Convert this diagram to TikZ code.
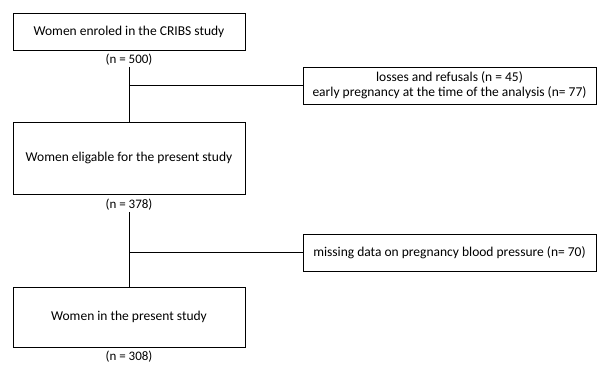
\documentclass[tikz,border=0pt]{standalone}
\usepackage{fontspec}
\setmainfont{Carlito}
\begin{document}
\begin{tikzpicture}[
    x=1pt, y=-1pt,
    every node/.style={font=\fontsize{13.5}{15}\selectfont},
    stagebox/.style={draw, line width=0.9pt, minimum width=232pt, inner sep=0pt, align=center},
    exclbox/.style={draw, line width=0.9pt, minimum width=293pt, minimum height=37pt, inner sep=0pt, align=center},
    count/.style={inner sep=1pt, font=\fontsize{13}{14}\selectfont},
    link/.style={draw, line width=0.7pt}
]
\useasboundingbox (0,0) rectangle (598,365);
% Main stages
\node[stagebox, minimum height=37pt] (enrolled) at (129,31.5) {Women enroled in the CRIBS study};
\node[count] (n500) at (129,60) {(n = 500)};
\node[stagebox, minimum height=72pt] (eligible) at (129,158) {Women eligable for the present study};
\node[count] (n378) at (129,205) {(n = 378)};
\node[stagebox, minimum height=60pt] (present) at (129,317) {Women in the present study};
\node[count] (n308) at (129,357) {(n = 308)};
% Exclusions
\node[exclbox] (excl1) at (449.5,85.5) {losses and refusals (n = 45)\\early pregnancy at the time of the analysis (n= 77)};
\node[exclbox] (excl2) at (449.5,252.5) {missing data on pregnancy blood pressure (n= 70)};
% Flow lines
\draw[link] (n500) -- (eligible);
\draw[link] (excl1.west) -- (excl1.west -| n500);
\draw[link] (n378) -- (present);
\draw[link] (excl2.west) -- (excl2.west -| n378);
\end{tikzpicture}
\end{document}
